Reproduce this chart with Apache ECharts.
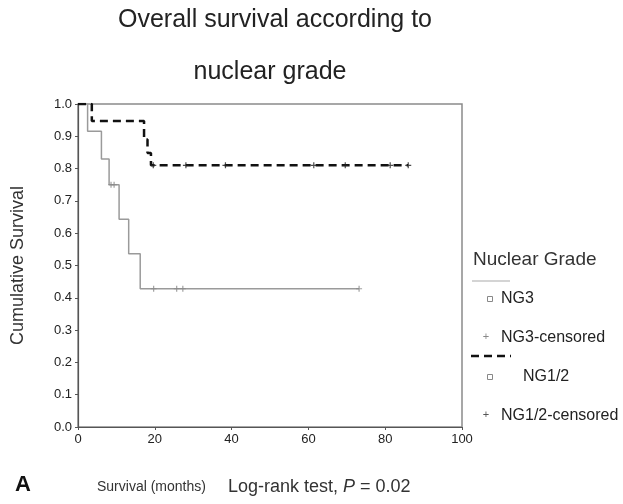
<!DOCTYPE html>
<html>
<head>
<meta charset="utf-8">
<script src="https://cdn.jsdelivr.net/npm/echarts@6/dist/echarts.min.js"></script>
<style>
html,body{margin:0;padding:0;background:#fff;}
#chart{width:623px;height:504px;}
</style>
</head>
<body>
<div id="chart"></div>
<script>
// ---- data ----
const titleLines = ['Overall survival according to', 'nuclear grade'];
const xTicks = [0, 20, 40, 60, 80, 100];
const yTicks = [0.0, 0.1, 0.2, 0.3, 0.4, 0.5, 0.6, 0.7, 0.8, 0.9, 1.0];

const ng3Time     = [0, 2.5, 6.1, 8.1, 10.7, 13.2, 16.2, 73.2];
const ng3Surv     = [1.0, 0.916, 0.83, 0.75, 0.643, 0.536, 0.428, 0.428];
const ng3CensTime = [8.6, 9.4, 19.7, 25.7, 27.3, 73.2];
const ng3CensSurv = [0.75, 0.75, 0.428, 0.428, 0.428, 0.428];

const ng12Time     = [0, 3.6, 17.2, 18.1, 19.0, 86.0];
const ng12Surv     = [1.0, 0.947, 0.89, 0.848, 0.81, 0.81];
const ng12CensTime = [19.6, 28.1, 38.4, 61.4, 69.6, 81.3, 86.0];
const ng12CensSurv = [0.81, 0.81, 0.81, 0.81, 0.81, 0.81, 0.81];

const legendTitle = 'Nuclear Grade';
const legendNames = ['NG3', 'NG3-censored', 'NG1/2', 'NG1/2-censored'];
const axisNameY = 'Cumulative Survival';
const axisNameX = 'Survival (months)';
const panelLabel = 'A';
const testText = 'Log-rank test, ';
const pValue = '0.02';

// ---- chart ----
const zip = (a, b) => a.map((v, i) => [v, b[i]]);
const plusPath = 'path://M4,0 L6,0 L6,4 L10,4 L10,6 L6,6 L6,10 L4,10 L4,6 L0,6 L0,4 L4,4 Z';
const FONT = '"Liberation Sans", Arial, sans-serif';

const chart = echarts.init(document.getElementById('chart'));
chart.setOption({
  animation: false,
  backgroundColor: '#fff',
  textStyle: { fontFamily: FONT },
  grid: { left: 78, right: 161, top: 104, bottom: 77, show: true, borderColor: '#8a8a8a', borderWidth: 1.5,
          containLabel: false, outerBoundsMode: 'none' },
  xAxis: {
    type: 'value', min: xTicks[0], max: xTicks[xTicks.length - 1], interval: 20,
    axisLine: { lineStyle: { color: '#555', width: 1.2 } },
    axisTick: { show: true, length: 3, lineStyle: { color: '#555' } },
    axisLabel: { color: '#222', fontSize: 13, margin: 6, fontFamily: FONT },
    splitLine: { show: false }
  },
  yAxis: {
    type: 'value', min: 0, max: 1, interval: 0.1,
    axisLine: { show: true, lineStyle: { color: '#555', width: 1.2 } },
    axisTick: { show: true, length: 3, lineStyle: { color: '#555' } },
    axisLabel: { color: '#222', fontSize: 13, margin: 6, fontFamily: FONT, formatter: v => v.toFixed(1) },
    splitLine: { show: false },
    name: axisNameY, nameLocation: 'middle', nameGap: 51, nameRotate: 90,
    nameTextStyle: { color: '#333', fontSize: 18, fontFamily: FONT }
  },
  series: [
    { name: 'NG3', type: 'line', step: 'end', data: zip(ng3Time, ng3Surv), showSymbol: false,
      lineStyle: { color: '#9a9a9a', width: 1.5 }, z: 2 },
    { name: 'NG3-censored', type: 'scatter', data: zip(ng3CensTime, ng3CensSurv), symbol: plusPath,
      symbolSize: 6, itemStyle: { color: '#8a8a8a' }, z: 3 },
    { name: 'NG1/2', type: 'line', step: 'end', data: zip(ng12Time, ng12Surv), showSymbol: false,
      lineStyle: { color: '#111', width: 2.5, type: [8, 5] }, z: 4 },
    { name: 'NG1/2-censored', type: 'scatter', data: zip(ng12CensTime, ng12CensSurv), symbol: plusPath,
      symbolSize: 6, itemStyle: { color: '#222' }, z: 5 }
  ],
  graphic: [
    { type: 'text', style: { text: titleLines[0], x: 275, y: 20, align: 'center', verticalAlign: 'middle', font: '25px ' + FONT, fill: '#222' } },
    { type: 'text', style: { text: titleLines[1], x: 270, y: 72, align: 'center', verticalAlign: 'middle', font: '25px ' + FONT, fill: '#222' } },
    // legend
    { type: 'text', style: { text: legendTitle, x: 473, y: 260, verticalAlign: 'middle', font: '19px ' + FONT, fill: '#333' } },
    { type: 'line', shape: { x1: 472, y1: 281, x2: 510, y2: 281 }, style: { stroke: '#aaa', lineWidth: 1.2 } },
    { type: 'rect', shape: { x: 487.5, y: 296.5, width: 5, height: 5 }, style: { fill: '#fff', stroke: '#888', lineWidth: 1 } },
    { type: 'text', style: { text: legendNames[0], x: 501, y: 299, verticalAlign: 'middle', font: '16px ' + FONT, fill: '#222' } },
    { type: 'text', style: { text: '+', x: 486, y: 337, align: 'center', verticalAlign: 'middle', font: '11px ' + FONT, fill: '#888' } },
    { type: 'text', style: { text: legendNames[1], x: 501, y: 338, verticalAlign: 'middle', font: '16px ' + FONT, fill: '#222' } },
    { type: 'line', shape: { x1: 471, y1: 356, x2: 511, y2: 356 }, style: { stroke: '#111', lineWidth: 2.5, lineDash: [8, 5] } },
    { type: 'rect', shape: { x: 487.5, y: 374.5, width: 5, height: 5 }, style: { fill: '#fff', stroke: '#888', lineWidth: 1 } },
    { type: 'text', style: { text: legendNames[2], x: 523, y: 377, verticalAlign: 'middle', font: '16px ' + FONT, fill: '#222' } },
    { type: 'text', style: { text: '+', x: 486, y: 415, align: 'center', verticalAlign: 'middle', font: '11px ' + FONT, fill: '#555' } },
    { type: 'text', style: { text: legendNames[3], x: 501, y: 416, verticalAlign: 'middle', font: '16px ' + FONT, fill: '#222' } },
    // bottom texts
    { type: 'text', style: { text: panelLabel, x: 15, y: 485, verticalAlign: 'middle', font: 'bold 22px ' + FONT, fill: '#111' } },
    { type: 'text', style: { text: axisNameX, x: 97, y: 487, verticalAlign: 'middle', font: '14px ' + FONT, fill: '#333' } },
    { type: 'text', style: {
        text: '{n|' + testText + '}{p|P}{n| = ' + pValue + '}', x: 228, y: 487, verticalAlign: 'middle',
        rich: {
          n: { fontSize: 18, fontFamily: FONT, fill: '#333', color: '#333' },
          p: { fontSize: 18, fontFamily: FONT, fontStyle: 'italic', fill: '#333', color: '#333' }
        } } }
  ]
});
</script>
</body>
</html>
